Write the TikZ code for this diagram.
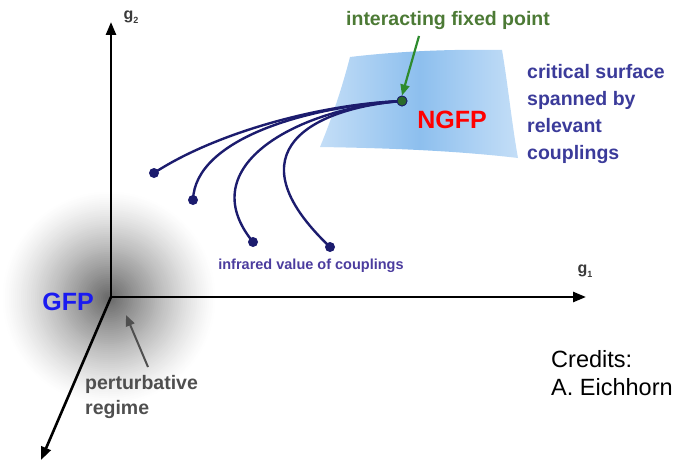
\documentclass[tikz,border=0pt]{standalone}
\usepackage{fontspec}
\setmainfont{Liberation Sans}
\usetikzlibrary{arrows.meta}
\definecolor{curvec}{HTML}{1C1C6E}
\definecolor{surfc}{HTML}{3B3B9A}
\definecolor{irc}{HTML}{4B3C9E}
\definecolor{greentxt}{HTML}{4C7A35}
\definecolor{greenarr}{HTML}{2E8B2E}
\definecolor{greendot}{HTML}{2A6A2A}
\definecolor{gfpblue}{HTML}{1A1AF0}
\definecolor{graytxt}{HTML}{4F4F4F}
\definecolor{axlab}{HTML}{3A3A3A}
\definecolor{sfedge}{HTML}{C4DEF7}
\definecolor{sfmid}{HTML}{8DBFEE}
\tikzset{
  axis/.style={line width=2.6pt,-{Triangle[length=13pt,width=10pt]}},
  flow/.style={curvec,line width=2.4pt},
  irdot/.style={circle,fill=curvec,inner sep=0pt,minimum size=10pt},
  fpdot/.style={circle,fill=greendot,draw=curvec,line width=0.8pt,inner sep=0pt,minimum size=10pt},
  boldlab/.style={font=\bfseries\fontsize{19.5}{27}\selectfont,inner sep=0pt},
  axlabel/.style={font=\bfseries\fontsize{16}{18}\selectfont,text=axlab,inner sep=0pt},
}
\begin{document}
\begin{tikzpicture}[x=1pt,y=-1pt]
\useasboundingbox (0,0) rectangle (682,460);
% perturbative region shading (concentric discs)
\foreach \i in {0,...,54}{
  \pgfmathsetmacro{\rr}{108-2*\i}
  \pgfmathsetmacro{\pc}{60*(1-\rr/108)^1.25}
  \fill[black!\pc!white] (109,298) circle (\rr);
}
% critical surface
\shade[left color=sfedge,right color=sfedge,middle color=sfmid]
  (350,57) .. controls (400,51) and (455,49) .. (502,50)
  .. controls (508,85) and (512,125) .. (518,158)
  .. controls (450,150) and (380,148) .. (320,147)
  .. controls (332,118) and (342,88) .. (350,57) -- cycle;
% axes
\coordinate (O) at (111,297);
\coordinate (g2tip) at (111,22);
\coordinate (g1tip) at (586,297);
\coordinate (g3tip) at (41,460);
\draw[axis] (O) -- (g2tip);
\draw[axis] (O) -- (g1tip);
\draw[axis] (O) -- (g3tip);
\node[axlabel] (g2lab) at (131,17) {g\raisebox{-0.45ex}{\fontsize{9}{9}\selectfont 2}};
\node[axlabel] (g1lab) at (585,271) {g\raisebox{-0.45ex}{\fontsize{9}{9}\selectfont 1}};
% flows
\node[fpdot] (ngfp) at (402,101) {};
\node[irdot] (e1) at (154,173) {};
\node[irdot] (e2) at (193,200) {};
\node[irdot] (e3) at (253,242) {};
\node[irdot] (e4) at (330,247) {};
\draw[flow] (ngfp.center) .. controls (320,104) and (215,133) .. (e1.center);
\draw[flow] (ngfp.center) .. controls (310,106) and (195,138) .. (e2.center);
\draw[flow] (ngfp.center) .. controls (300,108) and (190,165) .. (e3.center);
\draw[flow] (ngfp.center) .. controls (315,108) and (228,150) .. (e4.center);
\node[fpdot] (ngfpdot) at (402,101) {};
% labels
\node[boldlab,text=greentxt] (ifp) at (448,21) {interacting fixed point};
\coordinate (ifparr) at (419,36);
\draw[greenarr,line width=2.2pt,-{Triangle[length=11pt,width=9pt]}] (ifparr) -- (ngfpdot.north);
\node[font=\bfseries\fontsize{25}{25}\selectfont,text=red,inner sep=0pt] (ngfplab) at (452,120) {NGFP};
\node[boldlab,text=surfc,align=left,anchor=north west] (crit) at (527,64)
  {critical surface\\spanned by\\relevant\\couplings};
\node[font=\bfseries\fontsize{14.5}{16}\selectfont,text=irc,inner sep=0pt] (ir) at (311,266) {infrared value of couplings};
\node[font=\bfseries\fontsize{25}{25}\selectfont,text=gfpblue,inner sep=0pt] (gfp) at (68,302) {GFP};
\node[font=\bfseries\fontsize{19.5}{25}\selectfont,inner sep=0pt,text=graytxt,align=left,anchor=north west] (pert) at (85,375) {perturbative\\regime};
\coordinate (pertarr) at (148,367);
\coordinate (pertarrtip) at (126,315);
\draw[graytxt,line width=2pt,-{Triangle[length=11pt,width=9pt]}] (pertarr) -- (pertarrtip);
\node[font=\fontsize{23.5}{28}\selectfont,align=left,anchor=north west,inner sep=0pt] (cred) at (551,350)
  {Credits:\\A. Eichhorn};
\end{tikzpicture}
\end{document}
